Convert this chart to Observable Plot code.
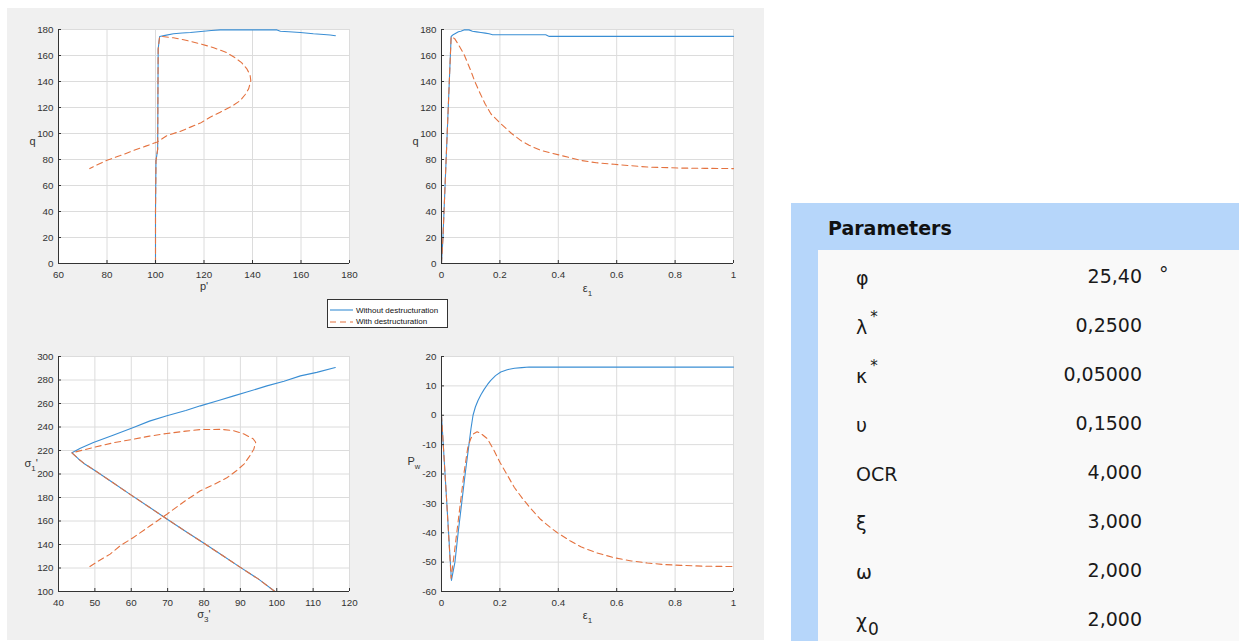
<!DOCTYPE html>
<html><head><meta charset="utf-8">
<script src="https://cdn.jsdelivr.net/npm/d3@7"></script>
<script src="https://cdn.jsdelivr.net/npm/@observablehq/plot@0.6"></script>
<style>
html,body{margin:0;padding:0;background:#fff;}
#root{position:relative;width:1239px;height:641px;overflow:hidden;font-family:"Liberation Sans",Arial,sans-serif;}
#fig{position:absolute;left:7px;top:8px;width:757px;height:632px;background:#f0f0f0;}
.plotbox{position:absolute;}
#legend{position:absolute;left:327px;top:299px;width:121px;height:29px;box-sizing:border-box;border:1px solid #333;background:#fff;font-size:8px;color:#111;}
.lrow{position:absolute;left:0;height:10px;display:flex;align-items:center;}
.lrow svg{margin-left:2px;margin-right:3px;}
#pbox{position:absolute;left:791px;top:203px;width:448px;height:438px;background:#b6d6fa;}
#pinner{position:absolute;left:818px;top:250px;width:421px;height:391px;background:#f9f9f9;}
#ptitle{position:absolute;left:828px;top:214px;font:bold 19px "DejaVu Sans",Verdana,sans-serif;color:#111;line-height:28px;}
.plab,.pval,.punit{position:absolute;font:19px "DejaVu Sans",Verdana,sans-serif;color:#1a1a1a;line-height:26px;height:26px;}
.pval{text-align:right;width:150px;}
.sup{position:relative;top:-12px;font-size:15px;margin-left:3px;}
.sub{position:relative;top:7px;font-size:17px;margin-left:1px;}
</style></head><body>
<div id="root"><div id="fig"></div></div>
<script>
// ---------- data ----------
const seriesNames = ["Without destructuration", "With destructuration"];
const seriesColors = ["#3a8ed4", "#e4723f"];

// Panel 1: p' (x) vs q (y)
const p1Without = [100, 100, 100.2, 100.9, 101, 101.1, 101.7, 104, 107.4, 111, 114.4, 119.8, 123, 126.7, 135, 143, 150.1, 151.5, 155, 159.7, 165.1, 169.4, 172, 174.2];
const q1Without = [0, 40, 79, 88, 130, 165, 174.6, 175.5, 176.7, 177.3, 177.7, 178.7, 179.2, 179.7, 179.7, 179.7, 179.7, 178.7, 178.3, 177.7, 176.7, 176.2, 175.8, 175.2];
const p1With = [100, 100, 100.2, 100.9, 101, 101.1, 101.7, 102.7, 107.4, 111.6, 118.5, 124, 129, 132.5, 135.5, 137.7, 139, 139.3, 138.4, 137, 135, 131.5, 126.7, 122.5, 118.5, 114.4, 110, 104.8, 100.7, 96, 91, 85.5, 80, 76, 72.9];
const q1With = [0, 40, 79, 88, 130, 165, 174.6, 174.6, 173.6, 172.1, 169, 166, 162.5, 158.7, 154.5, 149.7, 145, 140.7, 134.3, 130, 125.4, 121, 116.4, 112.5, 108, 104.9, 101.5, 98.5, 93.4, 90.3, 87, 83, 79.4, 76, 73];

// Panel 2: eps1 (x) vs q (y)
const e2Without = [0, 0.005, 0.033, 0.04, 0.049, 0.058, 0.066, 0.077, 0.094, 0.106, 0.12, 0.135, 0.15, 0.163, 0.175, 0.2, 0.25, 0.3, 0.357, 0.369, 0.5, 0.7, 0.9, 1];
const q2Without = [0, 20, 174.6, 176, 177.1, 178.2, 178.7, 179.7, 179.7, 178.7, 178.2, 177.7, 177.2, 176.7, 176, 176, 176, 176, 176, 174.7, 174.7, 174.7, 174.7, 174.7];
const e2With = [0, 0.005, 0.033, 0.045, 0.055, 0.077, 0.1, 0.115, 0.132, 0.15, 0.169, 0.203, 0.24, 0.271, 0.3, 0.34, 0.408, 0.477, 0.53, 0.591, 0.65, 0.705, 0.82, 0.9, 1];
const q2With = [0, 20, 174.6, 173, 169.5, 161, 148.5, 139.5, 131, 122.5, 115.2, 107.5, 100, 94.7, 91, 87, 83.2, 79.3, 77.5, 76.3, 75.2, 74.2, 73.4, 73.2, 73];

// Panel 3: sigma3' (x) vs sigma1' (y)
const s3Without = [99.5, 95, 90, 85, 80, 75, 70, 65, 60, 55, 50, 47, 45.5, 43.7, 46, 49.6, 55, 60.6, 65, 69.8, 75, 79, 84, 88.2, 92, 97.3, 102, 106.5, 111, 116.1];
const s1Without = [100, 110.5, 120.5, 130.8, 141, 151, 161.3, 171.7, 182, 192.5, 203, 209, 212.8, 218, 222, 226.8, 233, 239.6, 245, 249.5, 254, 258, 262.5, 266.5, 270, 275, 279, 283.5, 286.5, 290.6];
const s3With = [99.5, 95, 90, 85, 80, 75, 70, 65, 60, 55, 50, 47, 45.5, 43.7, 49.6, 55, 60.6, 65, 69.8, 75, 79, 84.5, 88, 91, 93.5, 94.2, 93.7, 92.5, 91, 89, 86.4, 83, 79, 75, 69.8, 65, 60.6, 57, 54.2, 51, 48.5];
const s1With = [100, 110.5, 120.5, 130.8, 141, 151, 161.3, 171.7, 182, 192.5, 203, 209, 212.8, 218, 222.6, 226.5, 229.6, 232.2, 234.5, 236.5, 237.8, 238, 237, 234, 230, 227, 221.1, 215, 208.4, 203, 197, 191.5, 185.7, 177.5, 165.8, 155.5, 146, 139, 131.8, 126, 121];

// Panel 4: eps1 (x) vs Pw (y)
const e4Without = [0, 0.017, 0.034, 0.046, 0.057, 0.069, 0.081, 0.094, 0.101, 0.108, 0.116, 0.125, 0.135, 0.146, 0.157, 0.168, 0.185, 0.203, 0.225, 0.25, 0.275, 0.3, 0.35, 0.5, 0.75, 1];
const w4Without = [0, -28, -56.2, -50, -40, -30, -20, -10, -4.5, 0, 2.8, 5, 7, 8.8, 10.4, 11.8, 13.5, 14.7, 15.5, 16, 16.2, 16.4, 16.4, 16.4, 16.4, 16.4];
const e4With = [0, 0.017, 0.033, 0.045, 0.056, 0.067, 0.078, 0.09, 0.1, 0.11, 0.122, 0.135, 0.157, 0.18, 0.2, 0.225, 0.249, 0.277, 0.306, 0.34, 0.374, 0.397, 0.44, 0.477, 0.53, 0.591, 0.65, 0.705, 0.76, 0.819, 0.9, 1];
const w4With = [0, -28, -55.5, -46, -37, -28, -19, -11, -8, -6.3, -5.6, -6.2, -8, -12, -16, -20.3, -24.5, -28.3, -31.8, -35.5, -38.3, -40, -42.7, -44.8, -46.8, -48.5, -49.6, -50.3, -50.8, -51.1, -51.4, -51.5];

// Ticks
const ticksP = [60, 80, 100, 120, 140, 160, 180];
const ticksQ = [0, 20, 40, 60, 80, 100, 120, 140, 160, 180];
const ticksEps = [0, 0.2, 0.4, 0.6, 0.8, 1];
const ticksS3 = [40, 50, 60, 70, 80, 90, 100, 110, 120];
const ticksS1 = [100, 120, 140, 160, 180, 200, 220, 240, 260, 280, 300];
const ticksPw = [-60, -50, -40, -30, -20, -10, 0, 10, 20];

// Parameters table
const paramSymbols = ["φ", "λ", "κ", "υ", "OCR", "ξ", "ω", "χ"];
const paramSup = ["", "*", "*", "", "", "", "", ""];
const paramSub = ["", "", "", "", "", "", "", "0"];
const paramValues = ["25,40", "0,2500", "0,05000", "0,1500", "4,000", "3,000", "2,000", "2,000"];
const paramUnits = ["°", "", "", "", "", "", "", ""];

// ---------- drawing ----------
const root = document.getElementById("root");
const NS = "http://www.w3.org/2000/svg";

function richText(svg, marker, parts) {
  const t = Array.from(svg.querySelectorAll("text")).find(e => e.textContent === marker);
  if (!t) return;
  t.textContent = "";
  for (const [s, dy, size] of parts) {
    const ts = document.createElementNS(NS, "tspan");
    ts.textContent = s;
    if (dy) ts.setAttribute("dy", dy);
    if (size) ts.setAttribute("font-size", size);
    t.appendChild(ts);
  }
}

function panel(cfg) {
  const blue = cfg.xWo.map((x, i) => ({x, y: cfg.yWo[i]}));
  const red = cfg.xW.map((x, i) => ({x, y: cfg.yW[i]}));
  const fmt = d => String(d);
  const svg = Plot.plot({
    width: cfg.width, height: cfg.height,
    marginLeft: cfg.ml, marginRight: cfg.mr, marginTop: cfg.mt, marginBottom: cfg.mb,
    style: {background: "transparent", overflow: "visible", fontFamily: "'Liberation Sans', Arial, sans-serif"},
    x: {domain: cfg.xDomain},
    y: {domain: cfg.yDomain},
    marks: [
      Plot.frame({fill: "white", stroke: null}),
      Plot.gridX(cfg.xTicks, {stroke: "#dcdcdc", strokeOpacity: 1}),
      Plot.gridY(cfg.yTicks, {stroke: "#dcdcdc", strokeOpacity: 1}),
      Plot.line(blue, {x: "x", y: "y", stroke: seriesColors[0], strokeWidth: 1.1}),
      Plot.line(red, {x: "x", y: "y", stroke: seriesColors[1], strokeWidth: 1.1, strokeDasharray: "6,4"}),
      Plot.ruleX([cfg.xDomain[0]], {stroke: "#333", strokeWidth: 1}),
      Plot.ruleY([cfg.yDomain[0]], {stroke: "#333", strokeWidth: 1}),
      Plot.axisX(cfg.xTicks, {tickSize: -3, tickPadding: 11, tickFormat: fmt, fontSize: 9.8, color: "#333", label: null}),
      Plot.axisY(cfg.yTicks, {tickSize: -3, tickPadding: 8, tickFormat: fmt, fontSize: 9.8, color: "#333", label: null}),
      Plot.text(["@@xlab@@"], {frameAnchor: "bottom", dy: cfg.xlabDy, fontSize: 11, fill: "#333"}),
      Plot.text(["@@ylab@@"], {frameAnchor: "left", dx: cfg.ylabDx, dy: cfg.ylabDy, fontSize: 11, fill: "#333"})
    ]
  });
  richText(svg, "@@xlab@@", cfg.xlab);
  richText(svg, "@@ylab@@", cfg.ylab);
  const box = document.createElement("div");
  box.className = "plotbox";
  box.style.left = cfg.left + "px";
  box.style.top = cfg.top + "px";
  box.appendChild(svg);
  root.appendChild(box);
}

panel({left: 0, top: 0, width: 380, height: 310, ml: 58, mr: 31, mt: 29, mb: 47,
  xDomain: [60, 180], yDomain: [0, 180], xTicks: ticksP, yTicks: ticksQ,
  xWo: p1Without, yWo: q1Without, xW: p1With, yW: q1With,
  xlab: [["p'"]], xlabDy: 26, ylab: [["q"]], ylabDx: -29, ylabDy: -5});

panel({left: 380, top: 0, width: 385, height: 310, ml: 61, mr: 32, mt: 29, mb: 47,
  xDomain: [0, 1], yDomain: [0, 180], xTicks: ticksEps, yTicks: ticksQ,
  xWo: e2Without, yWo: q2Without, xW: e2With, yW: q2With,
  xlab: [["ε"], ["1", 4, 8]], xlabDy: 28, ylab: [["q"]], ylabDx: -29, ylabDy: -5});

panel({left: 0, top: 330, width: 380, height: 311, ml: 58, mr: 31, mt: 26, mb: 50,
  xDomain: [40, 120], yDomain: [100, 300], xTicks: ticksS3, yTicks: ticksS1,
  xWo: s3Without, yWo: s1Without, xW: s3With, yW: s1With,
  xlab: [["σ"], ["3", 4, 8], ["'", -4]], xlabDy: 26, ylab: [["σ"], ["1", 4, 8], ["'", -4]], ylabDx: -34, ylabDy: -11});

panel({left: 380, top: 330, width: 385, height: 311, ml: 61, mr: 32, mt: 26, mb: 50,
  xDomain: [0, 1], yDomain: [-60, 20], xTicks: ticksEps, yTicks: ticksPw,
  xWo: e4Without, yWo: w4Without, xW: e4With, yW: w4With,
  xlab: [["ε"], ["1", 4, 8]], xlabDy: 27, ylab: [["P"], ["w", 4, 7.5]], ylabDx: -34, ylabDy: -13});

// legend
const legend = document.createElement("div");
legend.id = "legend";
seriesNames.forEach((name, i) => {
  const row = document.createElement("div");
  row.className = "lrow";
  row.style.top = (i === 0 ? 5 : 16.5) + "px";
  row.innerHTML = `<svg width="23" height="6"><line x1="0" x2="23" y1="3" y2="3" stroke="${seriesColors[i]}" stroke-width="1.1" ${i === 1 ? 'stroke-dasharray="6,4"' : ''}/></svg><span>${name}</span>`;
  legend.appendChild(row);
});
root.appendChild(legend);

// parameters panel
const pbox = document.createElement("div"); pbox.id = "pbox"; root.appendChild(pbox);
const pinner = document.createElement("div"); pinner.id = "pinner"; root.appendChild(pinner);
const ptitle = document.createElement("div"); ptitle.id = "ptitle"; ptitle.textContent = "Parameters"; root.appendChild(ptitle);
paramSymbols.forEach((sym, i) => {
  const cy = 276 + 49 * i;
  const lab = document.createElement("div");
  lab.className = "plab";
  lab.style.left = "856px";
  lab.style.top = (cy - 13 + 2) + "px";
  lab.innerHTML = sym + (paramSup[i] ? `<span class="sup">${paramSup[i]}</span>` : "") + (paramSub[i] ? `<span class="sub">${paramSub[i]}</span>` : "");
  root.appendChild(lab);
  const val = document.createElement("div");
  val.className = "pval";
  val.style.left = (1142 - 150) + "px";
  val.style.top = (cy - 13) + "px";
  val.textContent = paramValues[i];
  root.appendChild(val);
  if (paramUnits[i]) {
    const u = document.createElement("div");
    u.className = "punit";
    u.style.left = "1159px";
    u.style.top = (cy - 13 - 2) + "px";
    u.textContent = paramUnits[i];
    root.appendChild(u);
  }
});
</script>
</body></html>
